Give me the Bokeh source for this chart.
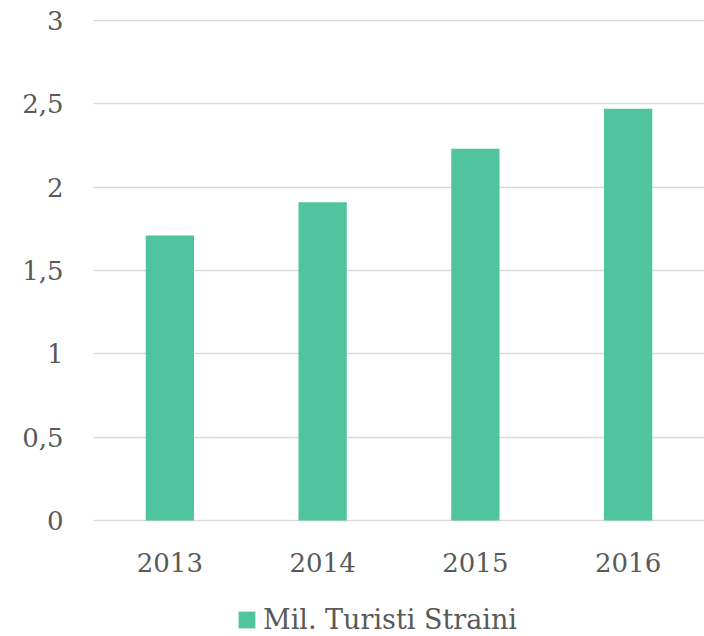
from bokeh.plotting import figure
from bokeh.models import ColumnDataSource, FactorRange, Range1d, FixedTicker, CustomJSTickFormatter, Legend, LegendItem, CategoricalAxis
from bokeh.embed import file_html
from bokeh.resources import INLINE

years = ["2013", "2014", "2015", "2016"]
tourists = [1.71, 1.91, 2.23, 2.47]
y_ticks = [0, 0.5, 1, 1.5, 2, 2.5, 3]
series_name = "Mil. Turisti Straini"

FONT = "DejaVu Serif"
TXT = "#595959"

# frame spans the full lower area; value 0 sits 116px above the canvas bottom (500px = 3 units)
PX = 3 / 500
Y_BOTTOM = -116 * PX
Y_TOP = 3 + 1 * PX

src = ColumnDataSource(data=dict(year=years, value=tourists))

p = figure(x_range=FactorRange(factors=years, range_padding=0), y_range=Range1d(Y_BOTTOM, Y_TOP),
           width=704, height=636, output_backend="svg", toolbar_location=None,
           min_border_left=93, min_border_right=0, min_border_top=19, min_border_bottom=0,
           x_axis_location=None)
p.outline_line_color = None

r = p.vbar(x="year", top="value", bottom=0, width=0.316, source=src, fill_color="#50c49e", line_color=None)

xaxis = CategoricalAxis(fixed_location=0)
p.add_layout(xaxis, "below")

p.yaxis.ticker = FixedTicker(ticks=y_ticks)
p.yaxis.formatter = CustomJSTickFormatter(code="return tick.toString().replace('.', ',');")
for ax in (xaxis, p.yaxis[0]):
    ax.axis_line_color = None
    ax.major_tick_line_color = None
    ax.minor_tick_line_color = None
    ax.major_label_text_font = FONT
    ax.major_label_text_font_size = "26px"
    ax.major_label_text_color = TXT
p.yaxis.major_label_standoff = 24
xaxis.major_label_standoff = 26

p.xgrid.grid_line_color = None
p.ygrid.grid_line_color = "#d9d9d9"
p.ygrid.grid_line_width = 1.5

legend = Legend(items=[LegendItem(label=series_name, renderers=[r])], orientation="horizontal",
                location=(143, 1), border_line_color=None, background_fill_alpha=0,
                label_text_font=FONT, label_text_font_size="27px", label_text_color=TXT,
                glyph_width=21, glyph_height=21, label_standoff=6, padding=0, margin=0)
p.add_layout(legend, "center")

open("out.html", "w").write(file_html(p, INLINE))
